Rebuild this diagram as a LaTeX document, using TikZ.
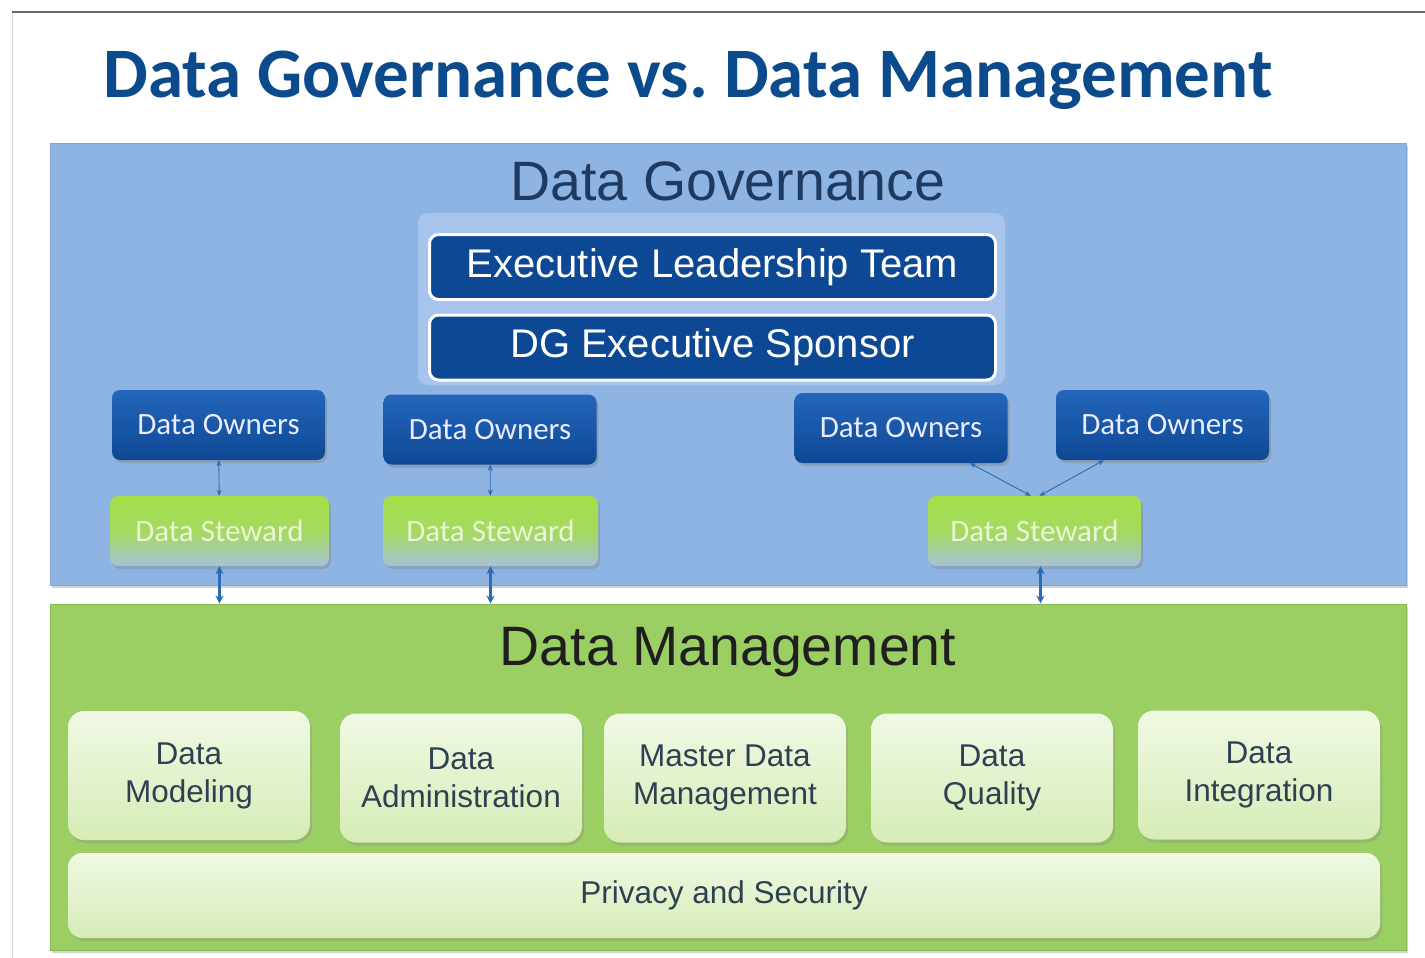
\documentclass[tikz,border=0pt]{standalone}
\usepackage{fontspec}
\setmainfont{Liberation Sans}
\newfontfamily\calfont{Carlito}
\usetikzlibrary{positioning, arrows.meta, shadows}

\definecolor{titleblue}{HTML}{0B4A8B}
\definecolor{govblue}{HTML}{8DB4E2}
\definecolor{govedge}{HTML}{7EA5D6}
\definecolor{govinner}{HTML}{A6C4EC}
\definecolor{govtext}{HTML}{1F3A60}
\definecolor{navy}{HTML}{0D4894}
\definecolor{navytop}{HTML}{2466BB}
\definecolor{stewtop}{HTML}{A4DE4A}
\definecolor{stewbot}{HTML}{A7C2D6}
\definecolor{stewtext}{HTML}{EAF6D6}
\definecolor{mgmtgreen}{HTML}{9CCF63}
\definecolor{mgmtedge}{HTML}{86B950}
\definecolor{areatop}{HTML}{F0F9E4}
\definecolor{areabot}{HTML}{D6ECB6}
\definecolor{slate}{HTML}{2E4153}
\definecolor{linkblue}{HTML}{2D6BB3}

\begin{document}
\begin{tikzpicture}[
  x=1pt, y=-1pt,
  node distance=36pt and 40pt,
  panel/.style={rectangle, minimum width=1356pt, inner sep=0pt,
    drop shadow={opacity=0.35, shadow xshift=2pt, shadow yshift=-3pt}},
  exec/.style={rectangle, rounded corners=9pt, draw=white, line width=3pt, fill=navy,
    text=white, minimum width=566pt, minimum height=65pt,
    font=\fontsize{40}{42}\selectfont},
  owner/.style={rectangle, rounded corners=8pt, top color=navytop, bottom color=navy,
    text=white!92!blue, minimum width=213pt, minimum height=70pt,
    font=\calfont\fontsize{31}{33}\selectfont,
    drop shadow={opacity=0.4, shadow xshift=2pt, shadow yshift=-3pt}},
  steward/.style={rectangle, rounded corners=8pt, top color=stewtop, bottom color=stewbot,
    middle color=stewtop!85!stewbot, text=stewtext, minimum width=215pt, minimum height=70pt,
    font=\calfont\fontsize{31}{33}\selectfont,
    drop shadow={opacity=0.35, shadow xshift=2pt, shadow yshift=-3pt}},
  area/.style={rectangle, rounded corners=16pt, top color=areatop, bottom color=areabot,
    text=slate, minimum width=242pt, minimum height=129pt, align=center,
    font=\fontsize{31.5}{38}\selectfont,
    drop shadow={opacity=0.3, shadow xshift=2pt, shadow yshift=-3pt}},
  link/.style={{Stealth[length=6pt,width=5pt]}-{Stealth[length=6pt,width=5pt]},
    draw=linkblue, line width=0.9pt},
  feed/.style={{Stealth[length=8pt,width=8pt]}-{Stealth[length=8pt,width=8pt]},
    draw=linkblue, line width=2.5pt}
]
  \useasboundingbox (0,0) rectangle (1425,958);

  % slide frame
  \draw[black!15, line width=1pt] (12,12) -- (12,958);
  \draw[black!60, line width=1.5pt] (12,12) -- (1425,12);

  % Title
  \node[anchor=base, text=titleblue, font=\calfont\bfseries\fontsize{71}{73}\selectfont]
    (title) at (688,98) {Data Governance vs.\ Data Management};

  % Governance panel
  \node[panel, fill=govblue, draw=govedge, line width=1pt, minimum height=442pt]
    (gov) at (728,364) {};
  \node[anchor=base, text=govtext, font=\fontsize{55.5}{57}\selectfont]
    (govlabel) at (728,200) {Data Governance};
  \node[rectangle, rounded corners=10pt, fill=govinner, minimum width=587pt,
    minimum height=172pt] (inner) at (711.5,299) {};
  \node[exec] (elt) at (712.5,267) {Executive Leadership Team};
  \node[exec] (sponsor) at (712.5,347.5) {DG Executive Sponsor};

  % Owners and stewards
  \node[owner] (own1) at (218.5,425) {Data Owners};
  \node[owner] (own2) at (490,429.5) {Data Owners};
  \node[owner] (own3) at (901,428) {Data Owners};
  \node[owner] (own4) at (1162.5,425) {Data Owners};
  \node[steward, minimum width=219pt] (stew1) at (219.5,531) {Data Steward};
  \node[steward] (stew2) at (490.5,531) {Data Steward};
  \node[steward, minimum width=213pt] (stew3) at (1034.5,531) {Data Steward};

  % Management panel
  \node[panel, fill=mgmtgreen, draw=mgmtedge, line width=1pt, minimum height=346pt]
    (mgmt) at (728,777) {};
  \node[anchor=base, text=black!88, font=\fontsize{55.5}{57}\selectfont]
    (mgmtlabel) at (728,665) {Data Management};

  \node[area] (model) at (189,775.5) {Data\\Modeling};
  \node[area] (admin) at (461,778) {Data\\Administration};
  \node[area] (master) at (725,778) {Master Data\\Management};
  \node[area] (quality) at (992,778) {Data\\Quality};
  \node[area] (integ) at (1259,775) {Data\\Integration};
  \node[area, rounded corners=14pt, minimum width=1312pt, minimum height=85pt]
    (privacy) at (724,895.5) {Privacy and Security};

  % Links
  \draw[link] (own1) -- (stew1);
  \draw[link] (own2) -- (stew2);
  \draw[link] (own3.-27.6) -- (stew3.96);
  \draw[link] (own4.211.3) -- (stew3.82);

  \draw[feed] (stew1.south) -- (stew1.south |- mgmt.north);
  \draw[feed] (stew2.south) -- (stew2.south |- mgmt.north);
  \draw[feed] ([xshift=6pt]stew3.south) -- ([xshift=6pt]stew3.south |- mgmt.north);

\end{tikzpicture}
\end{document}
